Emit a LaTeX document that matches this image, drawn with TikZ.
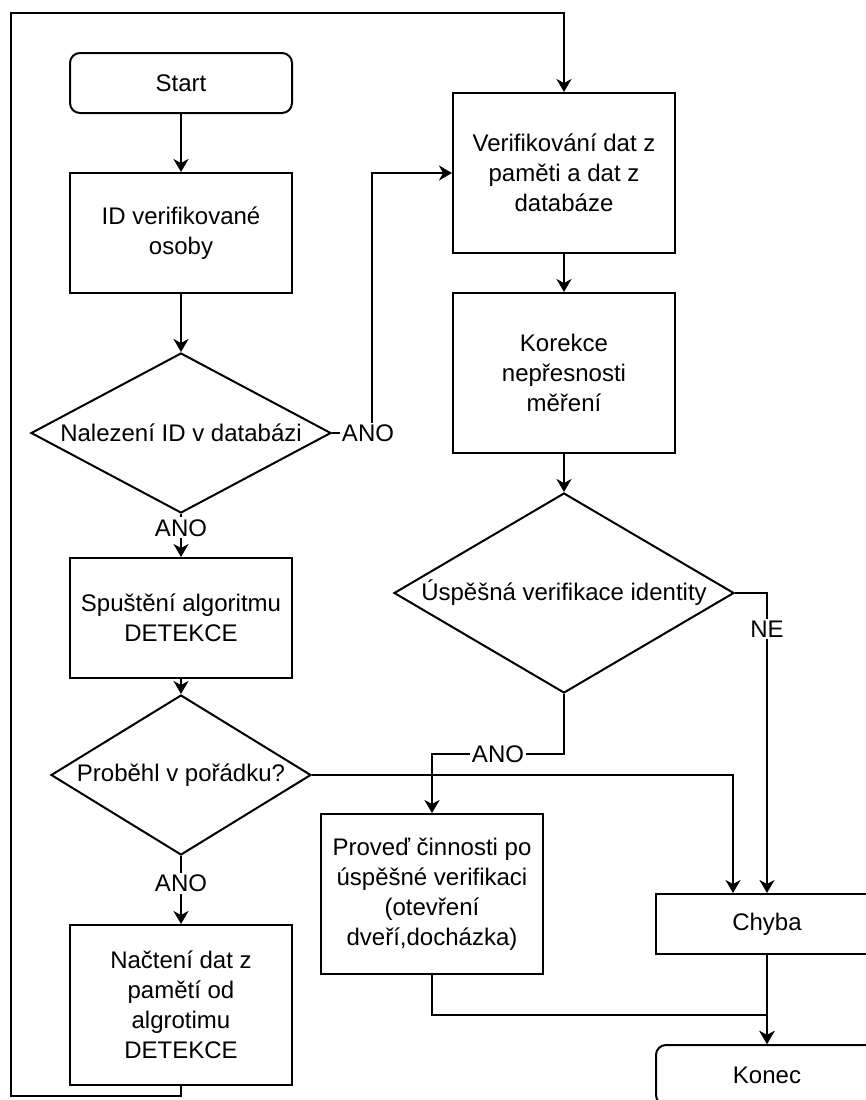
\documentclass[tikz,border=0pt]{standalone}
\usepackage{fontspec}
\setmainfont{Liberation Sans}
\usetikzlibrary{shapes.geometric,arrows.meta}
\tikzset{
  box/.style={draw,line width=1pt,minimum width=111pt,minimum height=80pt,align=center,inner sep=0pt},
  term/.style={box,rounded corners=5pt,minimum height=30pt},
  decision/.style={draw,line width=1pt,diamond,inner sep=0pt},
  arr/.style={line width=1pt,-{Stealth[length=6.5pt,width=7.5pt,inset=2pt]}},
  lbl/.style={fill=white,inner sep=1pt}
}
\begin{document}
\begin{tikzpicture}[x=0.5pt,y=-0.5pt,font=\fontsize{12}{15}\selectfont]
      \clip (0,0) rectangle (866,1100);
      \node[term] (start) at (181,83) {Start};
      \node[box,minimum height=60pt] (id) at (181,233) {ID verifikované\\osoby};
      \node[decision,minimum width=150pt,minimum height=80pt,label=center:Nalezení ID v databázi] (nalez) at (181,433) {};
      \node[box,minimum height=60pt] (spust) at (181,618) {Spuštění algoritmu\\DETEKCE};
      \node[decision,minimum width=130pt,minimum height=80pt,label=center:Proběhl v pořádku?] (prob) at (181,775) {};
      \node[box] (nacteni) at (181,1005) {Načtení dat z\\pamětí od\\algrotimu\\DETEKCE};
      \node[box] (verif) at (564,173) {Verifikování dat z\\paměti a dat z\\databáze};
      \node[box] (korekce) at (564,373) {Korekce\\nepřesnosti\\měření};
      \node[decision,minimum width=170pt,minimum height=100pt,label=center:Úspěšná verifikace identity] (uspes) at (564,593) {};
      \node[box] (proved) at (432,894) {Proveď činnosti po\\úspěšné verifikaci\\(otevření\\dveří,docházka)};
      \node[box,minimum height=30pt] (chyba) at (767,924) {Chyba};
      \node[term] (konec) at (767,1075) {Konec};
      % left column
      \draw[arr] (start) -- (id);
      \draw[arr] (id) -- (nalez);
      \draw[arr] (nalez) -- node[lbl,pos=0.32] {ANO} (spust);
      \draw[arr] (nalez.east) -- ++(40,0) |- (verif.west);
      \node[lbl] (ano1) at (368,433) {ANO};
      \draw[arr] (spust) -- (prob);
      \draw[arr] (prob) -- node[lbl,pos=0.4] {ANO} (nacteni);
      \draw[arr] (prob.east) -| ([xshift=-17pt]chyba.north);
      \draw[arr] (nacteni.south) -- ++(0,10) -| (11,13) -| (verif.north);
      % right column
      \draw[arr] (verif) -- (korekce);
      \draw[arr] (korekce) -- (uspes);
      \draw[arr] (uspes.east) -| node[lbl,pos=0.56] {NE} (chyba.north);
      \draw[arr] (uspes.south) -- ++(0,60) -| node[lbl,pos=0.25] {ANO} (proved.north);
      \draw[arr] (chyba) -- (konec);
      \draw[arr] (proved.south) -- ++(0,40) -| (konec.north);
    \end{tikzpicture}
\end{document}
